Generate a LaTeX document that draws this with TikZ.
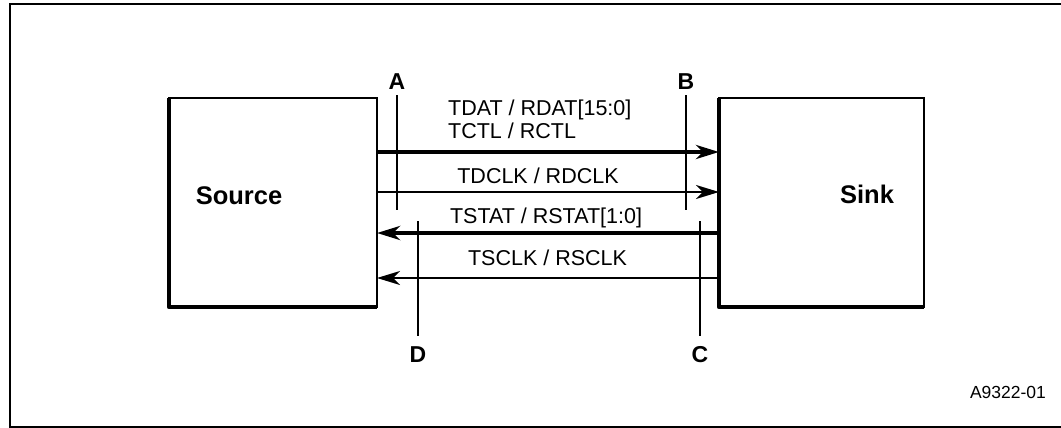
\documentclass[tikz,border=0pt]{standalone}
\usepackage{fontspec}
\setmainfont{Liberation Sans}
\usetikzlibrary{arrows.meta,positioning,calc}

\begin{document}
\begin{tikzpicture}[x=1pt,y=-1pt,
  >={Stealth[length=23pt,width=14pt,inset=7pt]},
  sigfont/.style={font=\fontsize{21.5}{23}\selectfont,inner sep=0pt},
  tagfont/.style={font=\bfseries\fontsize{23}{26}\selectfont,inner sep=0pt},
  blockbox/.style={draw,line width=2pt,inner sep=0pt,outer sep=0pt,minimum height=209pt},
  bus/.style={line width=4.5pt},
  wire/.style={line width=2pt},
  probe/.style={line width=1.3pt}]
\useasboundingbox (0,0) rectangle (1061,428);
% frame
\draw[line width=2pt] (1062,4) -- (10,4) -- (10,427) -- (1062,427);
% blocks
\node[blockbox,minimum width=208pt] (src) at (273,202.5) {};
\node[blockbox,minimum width=205pt] (snk) at (821.5,202.5) {};
\foreach \b in {src,snk} {
  \draw[line width=4.5pt,line join=round] (\b.north west) -- (\b.south west) -- (\b.south east);
}
\node[font=\bfseries\fontsize{25.5}{28}\selectfont,anchor=base,inner sep=0pt] (srclbl) at (239,204) {Source};
\node[font=\bfseries\fontsize{25.5}{28}\selectfont,anchor=base,inner sep=0pt] (snklbl) at (867,203) {Sink};
% source to sink
\foreach \dy/\kind in {50.5/bus,10.5/wire} {
  \draw[\kind,->] ([yshift=\dy pt]src.east) -- ([yshift=\dy pt]snk.west);
}
% sink to source
\foreach \dy/\kind in {-30.5/bus,-75.5/wire} {
  \draw[\kind,->] ([yshift=\dy pt]snk.west) -- ([yshift=\dy pt]src.east);
}
% signal names
\node[sigfont,align=left,anchor=base west] (dat) at (448,138) {TDAT / RDAT[15:0]\\TCTL / RCTL};
\node[sigfont,anchor=base] (dclk) at (538,183) {TDCLK / RDCLK};
\node[sigfont,anchor=base] (stat) at (546,223) {TSTAT / RSTAT[1:0]};
\node[sigfont,anchor=base] (sclk) at (547.5,265) {TSCLK / RSCLK};
% reference points
\foreach \n/\x in {A/397,B/686} {
  \node[tagfont,anchor=base] (tag\n) at (\x,89) {\n};
  \draw[probe] ([yshift=-6pt]tag\n.south) -- ++(0,115);
}
\foreach \n/\x in {D/418,C/700} {
  \node[tagfont,anchor=base] (tag\n) at (\x,362) {\n};
  \draw[probe] ([yshift=10pt]tag\n.north) -- ++(0,-115);
}
\node[font=\fontsize{17.5}{20}\selectfont,anchor=base,inner sep=0pt] (figid) at (1008,398) {A9322-01};
\end{tikzpicture}
\end{document}
